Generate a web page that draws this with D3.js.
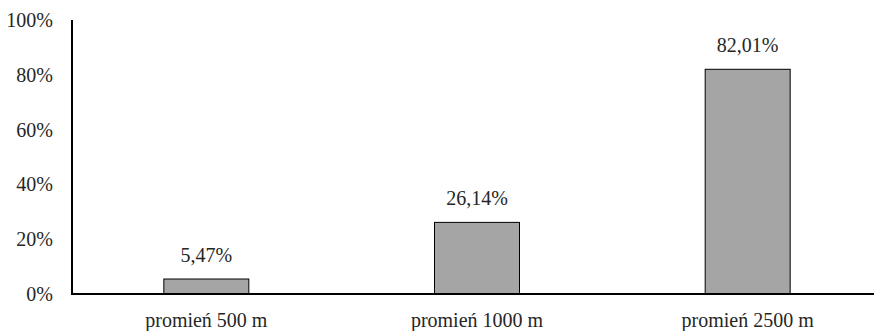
<!DOCTYPE html>
<html>
<head>
<meta charset="utf-8">
<script src="https://cdn.jsdelivr.net/npm/d3@7"></script>
<style>
  html, body { margin: 0; padding: 0; background: #fff; }
  svg { display: block; }
  text { font-family: "Liberation Serif", "Times New Roman", serif; font-size: 20px; fill: #262626; }
</style>
</head>
<body>
<svg id="chart" width="875" height="331"></svg>
<script>
// Share of area covered within each radius
const categories = ["promień 500 m", "promień 1000 m", "promień 2500 m"];
const values = [5.47, 26.14, 82.01];
const valueLabels = ["5,47%", "26,14%", "82,01%"];
const yTicks = [0, 20, 40, 60, 80, 100];

const svg = d3.select("#chart");
const plotLeft = 72, plotRight = 874, plotTop = 20, plotBottom = 294;

const x = d3.scaleBand()
  .domain(categories)
  .range([71, 883])
  .paddingInner(0.686)
  .paddingOuter(0.343);

const y = d3.scaleLinear().domain([0, 100]).range([plotBottom, plotTop]);

// y-axis tick labels (no tick marks)
const yAxis = d3.axisLeft(y)
  .tickValues(yTicks)
  .tickFormat(d => d + "%")
  .tickSize(0)
  .tickPadding(19);
const gy = svg.append("g").attr("transform", `translate(${plotLeft},0)`).call(yAxis);
gy.select(".domain").remove();
gy.attr("font-family", null).attr("font-size", null);
gy.selectAll("text")
  .style("fill", "#262626")
  .attr("dy", "0.32em");

// Bars
svg.append("g").selectAll("rect")
  .data(values)
  .join("rect")
  .attr("x", (d, i) => x(categories[i]))
  .attr("width", x.bandwidth())
  .attr("y", d => y(d))
  .attr("height", d => y(0) - y(d))
  .attr("fill", "#a5a5a5")
  .attr("stroke", "#000")
  .attr("stroke-width", 1);

// Value labels above bars
svg.append("g").selectAll("text")
  .data(values)
  .join("text")
  .attr("x", (d, i) => x(categories[i]) + x.bandwidth() / 2)
  .attr("y", d => y(d) - 17)
  .attr("text-anchor", "middle")
  .text((d, i) => valueLabels[i]);

// Axis lines
svg.append("line")
  .attr("x1", plotLeft).attr("x2", plotLeft)
  .attr("y1", plotTop).attr("y2", plotBottom)
  .attr("stroke", "#000").attr("stroke-width", 2);
svg.append("line")
  .attr("x1", plotLeft - 1).attr("x2", plotRight)
  .attr("y1", plotBottom).attr("y2", plotBottom)
  .attr("stroke", "#000").attr("stroke-width", 2);

// Category labels
const xAxis = d3.axisBottom(x).tickSize(0).tickPadding(0);
const gx = svg.append("g").attr("transform", `translate(0,${plotBottom})`).call(xAxis);
gx.select(".domain").remove();
gx.attr("font-family", null).attr("font-size", null);
gx.selectAll("text")
  .style("fill", "#262626")
  .attr("y", 33).attr("dy", null);
</script>
</body>
</html>
